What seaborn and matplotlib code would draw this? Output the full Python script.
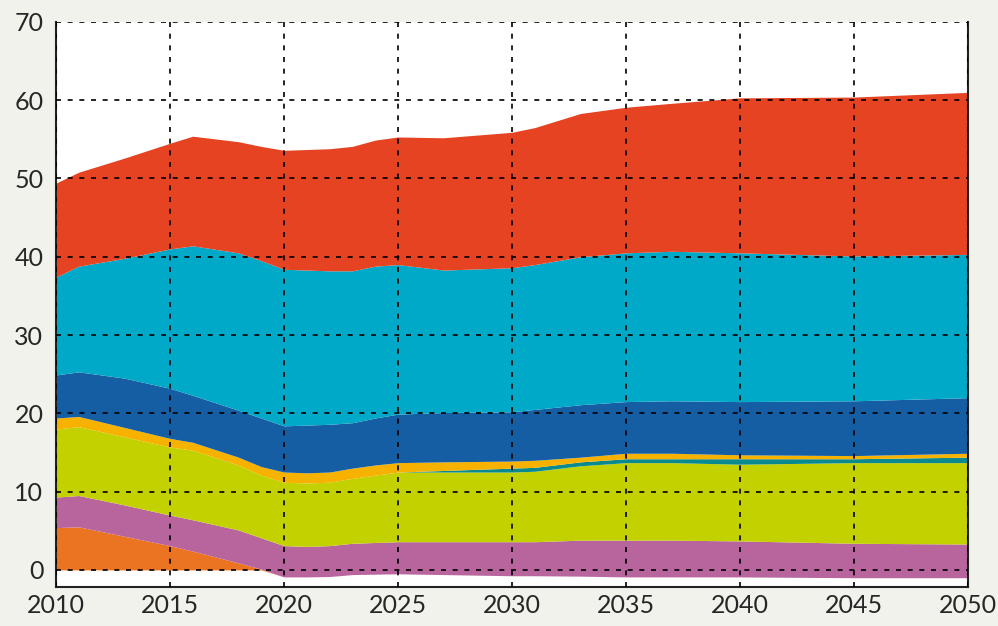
# plot.py
# stacked area chart, 2010-2050, drawn with seaborn styling + matplotlib fills

# ------------- load modules --------------
import numpy as np
import matplotlib
matplotlib.use("Agg")
import matplotlib.pyplot as plt
import seaborn as sns

# ------------- data -----------------------------------------------
years = [2010, 2011, 2013, 2015, 2016, 2018, 2019, 2020, 2021, 2022, 2023,
         2024, 2025, 2027, 2030, 2031, 2033, 2035, 2037, 2040, 2045, 2050]

# part of the total that sits below zero (after 2019)
below_zero = [0, 0, 0, 0, 0, 0, 0, -0.9, -0.9, -0.85, -0.6,
              -0.55, -0.5, -0.6, -0.75, -0.75, -0.8, -0.9, -0.9, -0.9, -1.0, -1.0]

# layer thicknesses, bottom to top
orange = [5.4, 5.5, 4.3, 3.1, 2.4, 0.9, 0.1, 0, 0, 0, 0,
          0, 0, 0, 0, 0, 0, 0, 0, 0, 0, 0]
purple = [3.9, 4.0, 4.0, 3.9, 4.0, 4.2, 4.0, 4.0, 3.9, 3.95, 4.0,
          4.05, 4.1, 4.2, 4.35, 4.35, 4.6, 4.7, 4.7, 4.6, 4.4, 4.3]
lime = [8.7, 8.8, 8.7, 8.7, 8.9, 8.3, 8.0, 8.1, 8.1, 8.1, 8.3,
        8.6, 8.9, 8.9, 8.9, 9.0, 9.5, 9.9, 9.9, 9.8, 10.3, 10.4]
teal = [0, 0, 0, 0, 0, 0, 0, 0, 0, 0, 0,
        0, 0, 0.2, 0.5, 0.5, 0.5, 0.5, 0.5, 0.7, 0.5, 0.7]
amber = [1.4, 1.3, 1.2, 1.1, 1.0, 1.0, 1.1, 1.3, 1.3, 1.3, 1.3,
         1.3, 1.2, 1.1, 0.9, 0.9, 0.6, 0.7, 0.7, 0.5, 0.4, 0.5]
navy = [5.5, 5.7, 6.3, 6.4, 6.0, 6.0, 6.2, 5.9, 6.1, 6.1, 5.8,
        6.0, 6.2, 6.3, 6.3, 6.5, 6.7, 6.6, 6.7, 6.8, 7.0, 7.1]
cyan = [12.5, 13.5, 15.3, 17.8, 19.1, 20.1, 20.1, 20.0, 19.8, 19.6, 19.4,
        19.4, 19.1, 18.2, 18.4, 18.5, 18.9, 19.0, 19.1, 19.0, 18.5, 18.3]
red = [12.0, 12.0, 12.8, 13.5, 14.0, 14.2, 14.6, 15.2, 15.4, 15.6, 15.9,
       16.1, 16.3, 16.9, 17.3, 17.5, 18.3, 18.6, 18.9, 19.8, 20.3, 20.7]

layers = [orange, purple, lime, teal, amber, navy, cyan, red]
colours = ["#eb7422", "#b8659e", "#c4d100", "#0a8a8e",
           "#f7b200", "#155ea3", "#00a9c8", "#e54322"]

xticks = [2010, 2015, 2020, 2025, 2030, 2035, 2040, 2045, 2050]
yticks = [0, 10, 20, 30, 40, 50, 60, 70]

# ------------- style --------------
sns.set_style("white")
plt.rcParams["font.family"] = ["Lato", "DejaVu Sans"]

fig = plt.figure(figsize=(9.98, 6.26), dpi=100, facecolor="#f2f2ed")
ax = fig.add_axes([0.056, 0.0625, 0.914, 0.9025])
ax.set_facecolor("white")

# ------------- stacked areas --------------
x = np.array(years)
bottom = np.array(below_zero, dtype=float)
for vals, col in zip(layers, colours):
    top = bottom + np.array(vals)
    ax.fill_between(x, bottom, top, color=col, linewidth=0)
    bottom = top

# ------------- axes, grid, ticks --------------
ax.set_xlim(2010, 2050)
ax.set_ylim(-2.17, 70)
ax.set_xticks(xticks)
ax.set_yticks(yticks)
ax.set_xticklabels([str(t) for t in xticks])
ax.set_yticklabels([str(t) for t in yticks])

ax.grid(True, color="black", linestyle=(0, (3, 4)), linewidth=1.2)
ax.set_axisbelow(False)
ax.tick_params(axis="both", length=0, labelsize=18, labelcolor="#262626")
ax.tick_params(axis="x", pad=5)
ax.tick_params(axis="y", pad=9)

ax.spines["top"].set_visible(False)
for side in ["left", "bottom", "right"]:
    ax.spines[side].set_color("#222222")
    ax.spines[side].set_linewidth(1.5)

plt.savefig("out.png", dpi=100, facecolor=fig.get_facecolor())
